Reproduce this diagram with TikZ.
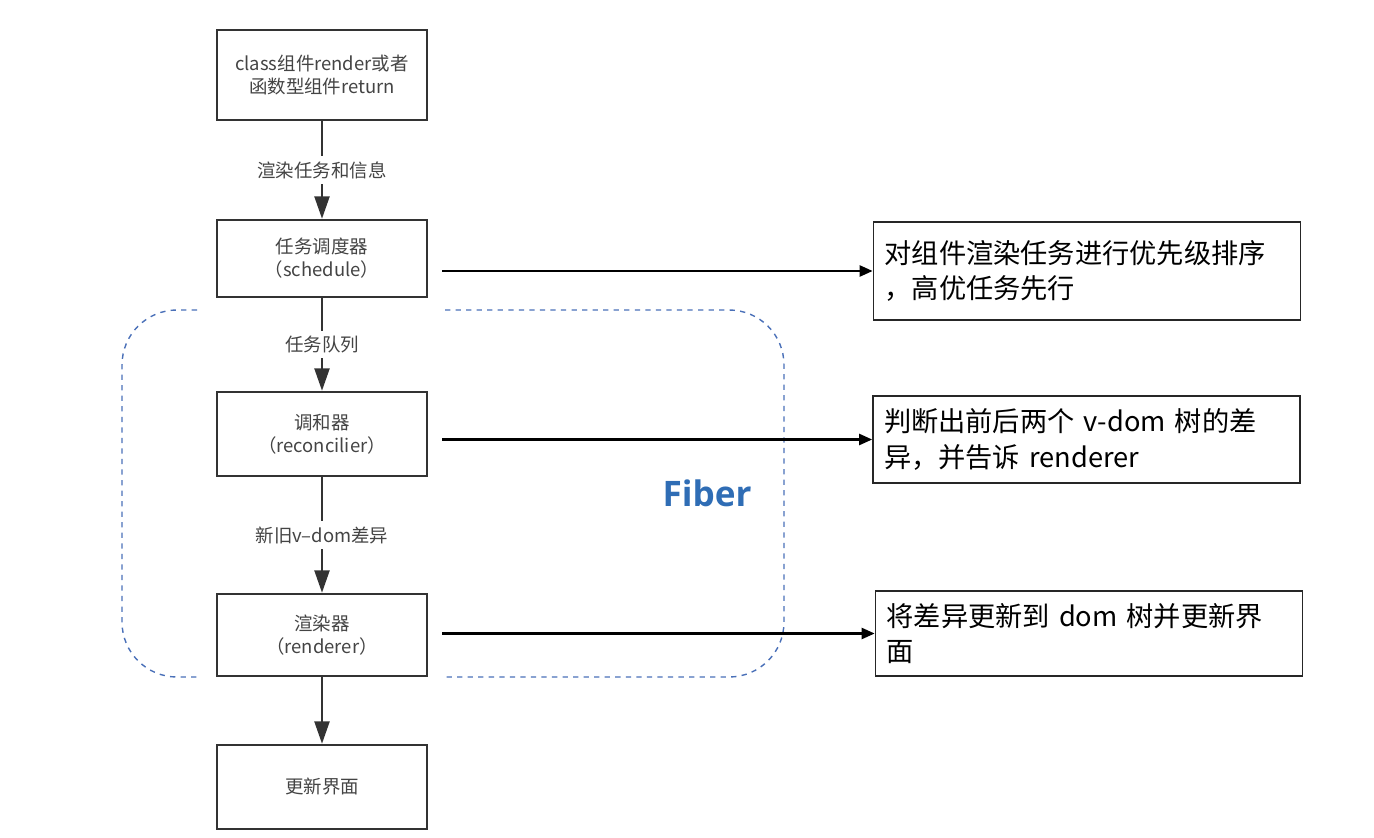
\documentclass[tikz,border=0pt]{standalone}
\usepackage{fontspec}
\setmainfont{Noto Sans CJK SC}
\newfontfamily\fiberfont{Open Sans}
\usetikzlibrary{arrows.meta}
\definecolor{boxgray}{HTML}{333333}
\definecolor{txtgray}{HTML}{444444}
\definecolor{fiberblue}{HTML}{2F6DB5}
\definecolor{dashblue}{HTML}{4A70B8}
\begin{document}
\begin{tikzpicture}[x=0.02cm, y=-0.02cm,
  stage/.style = {draw=boxgray, line width=1.4pt, fill=white, minimum width=4.2cm,
                  align=center, font=\fontsize{10.5}{13}\selectfont, text=txtgray},
  note/.style = {draw=black!85, line width=1pt, minimum width=8.54cm, text width=8.1cm,
                 align=left, font=\fontsize{15.5}{20}\selectfont, inner sep=0pt},
  lbl/.style = {fill=white, font=\fontsize{10.5}{13}\selectfont, text=txtgray, inner sep=3pt},
  flow/.style = {draw=boxgray, line width=1.4pt, -{Triangle[width=0.3cm, length=0.45cm]}},
  link/.style = {draw=black, line width=1.3pt, -{Triangle[width=0.22cm, length=0.26cm]}}]
  \useasboundingbox (0,0) rectangle (1374,838);
  % Fiber region
  \draw[dashblue, dashed, line width=0.8pt, rounded corners=1.1cm]
    (197,310) -- (122,310) -- (122,677) -- (200,677);
  \draw[dashblue, dashed, line width=0.8pt, rounded corners=1.1cm]
    (445,310) -- (784,310) -- (784,677) -- (442,677);
  \node[font=\fiberfont\bfseries\fontsize{20}{24}\selectfont, text=fiberblue] (fiber) at (707,493) {Fiber};
  % stages
  \node[stage, minimum height=1.8cm] (render) at (322,75) {class组件render或者\\函数型组件return};
  \node[stage, minimum height=1.54cm] (sched) at (322,258.5) {任务调度器\\（schedule）};
  \node[stage, minimum height=1.68cm] (recon) at (322,434) {调和器\\（reconcilier）};
  \node[stage, minimum height=1.64cm] (rend) at (322,635) {渲染器\\（renderer）};
  \node[stage, minimum height=1.68cm] (update) at (322,787) {更新界面};
  \draw[flow] (render) -- node[lbl, midway] {渲染任务和信息} (sched);
  \draw[flow] (sched) -- node[lbl, midway] {任务队列} (recon);
  \draw[flow] (recon) -- node[lbl, midway] {新旧v–dom差异} (rend);
  \draw[flow] (rend) -- (update);
  % notes
  \node[note, minimum height=1.96cm] (noteA) at (1087,271) {对组件渲染任务进行优先级排序\\，高优任务先行};
  \node[note, minimum height=1.74cm] (noteB) at (1086.5,439.5) {判断出前后两个 v-dom 树的差\\异，并告诉 renderer};
  \node[note, minimum height=1.7cm] (noteC) at (1089,633.5) {将差异更新到 dom 树并更新界\\面};
  \coordinate (fromA) at (442,271);
  \coordinate (fromB) at (442,439.5);
  \coordinate (fromC) at (442,633.5);
  \draw[link] (fromA) -- (noteA);
  \draw[link] (fromB) -- (noteB);
  \draw[link] (fromC) -- (noteC);
\end{tikzpicture}
\end{document}
